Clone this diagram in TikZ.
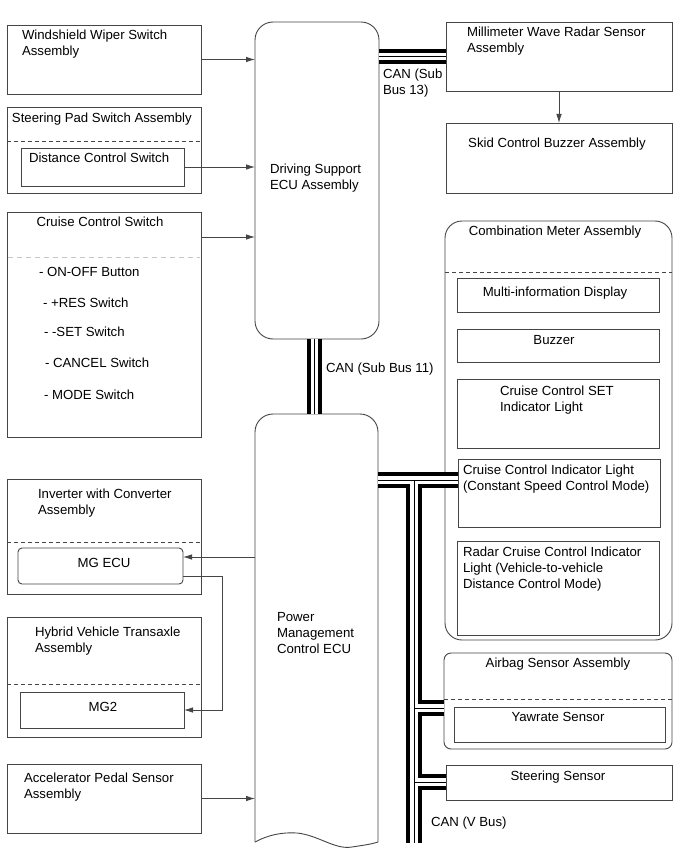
\documentclass[tikz,border=0pt]{standalone}
\usepackage{fontspec}
\setmainfont{Liberation Sans}
\usetikzlibrary{arrows.meta}
\definecolor{edge}{HTML}{454545}
\tikzset{
  bx/.style={draw=edge, line width=0.9pt, inner sep=0pt, outer sep=0pt},
  lbl/.style={inner sep=0pt, outer sep=0pt, align=left, anchor=west, font=\fontsize{13.2}{16}\selectfont},
  clbl/.style={inner sep=0pt, outer sep=0pt, align=center, font=\fontsize{13.2}{16}\selectfont},
  arr/.style={draw=edge, line width=0.8pt, -{Latex[length=9pt,width=5.5pt]}},
  wire/.style={draw=edge, line width=0.8pt},
  dsh/.style={draw=edge, line width=0.8pt, dash pattern=on 4pt off 3pt},
  gdsh/.style={draw=gray!45, line width=1pt, dash pattern=on 5pt off 4pt},
  busblack/.style={draw=black, line width=#1},
  buswhite/.style={draw=white, line width=#1},
  busthin/.style={draw=black, line width=0.8pt},
}
\newcommand\mkbox[6][]{\node[bx,#1,minimum width={#5-#3},minimum height={#6-#4}] (#2) at ({(#3+#5)/2},{(#4+#6)/2}) {};}
\begin{document}
\begin{tikzpicture}[x=1pt,y=-1pt]
\useasboundingbox[fill=white] (0,0) rectangle (690,853);

% ---------- left column ----------
\mkbox{wiper}{7}{25}{201}{94}
\mkbox{steer}{7}{107}{201}{193}
\draw[dsh] (7,141) -- (201,141);
\mkbox{dist}{21}{148}{184}{186}
\mkbox{ccsw}{7}{212}{201}{437}
\draw[gdsh] (8,257) -- (200,257);
\mkbox{inv}{7}{479}{201}{594}
\draw[dsh] (7,542) -- (201,542);
\mkbox[rounded corners=4pt]{mgecu}{18}{548}{183}{584}
\mkbox{hv}{7}{617}{201}{737}
\draw[dsh] (7,684) -- (201,684);
\mkbox{mgtwo}{20}{692}{184}{728}
\mkbox{accel}{7}{764}{201}{833}

% ---------- ECUs ----------
\mkbox[rounded corners=18pt]{dsecu}{255}{22}{379}{339}
\node[inner sep=0pt, outer sep=0pt, minimum width=123, minimum height=428] (pmc) at (316.5,628) {};
\draw[bx, rounded corners=18pt] (255,842) -- (255,414) -- (378,414) -- (378,842);
\draw[bx] (255,842) .. controls (268,835) and (282,832) .. (297,833)
  .. controls (318,835) and (335,850) .. (352,847)
  .. controls (365,845) and (372,844) .. (378,842);

% ---------- right column ----------
\mkbox{mmw}{446}{22}{672}{91}
\mkbox{skid}{446}{123}{672}{193}
\mkbox[rounded corners=17pt]{comb}{445}{221}{672}{640}
\draw[dsh] (445,272) -- (672,272);
\mkbox{mid}{457}{278}{659}{312}
\mkbox{buzz}{457}{329}{659}{362}
\mkbox{ccset}{457}{379}{659}{448}
\mkbox{ccind}{458}{459}{660}{527}
\mkbox{radar}{457}{541}{659}{635}
\mkbox[rounded corners=7pt]{airbag}{444}{653}{672}{749}
\draw[dsh] (444,699) -- (672,699);
\mkbox{yaw}{454}{707}{665}{742}
\mkbox{steersens}{446}{765}{672}{800}

% ---------- texts ----------
\node[lbl] (t1) at (22,44) {Windshield Wiper Switch\\Assembly};
\node[lbl] (t2) at (12,119) {Steering Pad Switch Assembly};
\node[lbl] (t3) at (29,158) {Distance Control Switch};
\node[clbl] (t4) at (100,222) {Cruise Control Switch};
\node[lbl] (t5) at (39,272) {- ON-OFF Button};
\node[lbl] (t6) at (43,303) {- +RES Switch};
\node[lbl] (t7) at (44,332) {- -SET Switch};
\node[lbl] (t8) at (45,363) {- CANCEL Switch};
\node[lbl] (t9) at (44,395) {- MODE Switch};
\node[lbl] (t10) at (38,503) {Inverter with Converter\\Assembly};
\node[clbl] (t11) at (104,563) {MG ECU};
\node[lbl] (t12) at (35,641) {Hybrid Vehicle Transaxle\\Assembly};
\node[clbl] (t13) at (103,707) {MG2};
\node[lbl] (t14) at (24,787) {Accelerator Pedal Sensor\\Assembly};
\node[lbl] (t15) at (270,178.5) {Driving Support\\ECU Assembly};
\node[lbl] (t16) at (277,633) {Power\\Management\\Control ECU};
\node[lbl] (t17) at (467,41) {Millimeter Wave Radar Sensor\\Assembly};
\node[lbl] (t18) at (383,83) {CAN (Sub\\Bus 13)};
\node[clbl] (t19) at (557,144) {Skid Control Buzzer Assembly};
\node[lbl] (t20) at (326,369) {CAN (Sub Bus 11)};
\node[clbl] (t21) at (555,232) {Combination Meter Assembly};
\node[clbl] (t22) at (555,293) {Multi-information Display};
\node[clbl] (t23) at (554,340) {Buzzer};
\node[lbl] (t24) at (500,400.5) {Cruise Control SET\\Indicator Light};
\node[lbl] (t25) at (463,479) {Cruise Control Indicator Light\\(Constant Speed Control Mode)};
\node[lbl] (t26) at (463,569) {Radar Cruise Control Indicator\\Light (Vehicle-to-vehicle\\Distance Control Mode)};
\node[clbl] (t27) at (558,664) {Airbag Sensor Assembly};
\node[clbl] (t28) at (558,717) {Yawrate Sensor};
\node[clbl] (t29) at (558,777) {Steering Sensor};
\node[lbl] (t30) at (431,823) {CAN (V Bus)};

% ---------- connectors ----------
\draw[arr] (wiper.east) -- (dsecu.west |- wiper.east);
\draw[arr] (dist.east) -- (dsecu.west |- dist.east);
\coordinate (ccout) at ([yshift=-25pt]ccsw.north east);
\draw[arr] (ccout) -- (dsecu.west |- ccout);
\coordinate (mgin) at ([yshift=-9pt]mgecu.north east);
\draw[arr] (pmc.west |- mgin) -- (mgin);
\coordinate (mgout) at ([yshift=8pt]mgecu.south east);
\draw[arr] (mgout) -- ++(39,0) |- (mgtwo.east);
\draw[arr] (accel.east) -- (pmc.west |- accel.east);
\draw[arr] (mmw.south) -- (skid.north);

% ---------- CAN buses ----------
% Sub Bus 13
\coordinate (sb13a) at (dsecu.east |- mmw.west);
\def\busA{(sb13a) -- (mmw.west)}
\draw[busblack=15pt] \busA; \draw[buswhite=7pt] \busA; \draw[busthin] \busA;
% Sub Bus 11
\coordinate (sb11a) at ([xshift=-2.5pt]dsecu.south);
\coordinate (sb11b) at ([xshift=-2pt]pmc.north);
\def\busB{(sb11a) -- (sb11b)}
\draw[busblack=15pt] \busB; \draw[buswhite=7pt] \busB; \draw[busthin] \busB;
% V Bus
\coordinate (vr) at ([yshift=13pt]ccind.west);
\coordinate (vl) at (pmc.east |- vr);
\coordinate (vt) at (414,480);
\coordinate (vbot) at (414,843);
\coordinate (vj1) at (414,708);
\coordinate (vj2) at (414,782);
\def\busC{(vl) -- (vr) (vt) -- (vbot) (vj1) -- (vj1 -| airbag.west) (vj2) -- (vj2 -| steersens.west)}
\draw[busblack=16pt] \busC; \draw[buswhite=8pt] \busC; \draw[busthin] \busC;
\end{tikzpicture}
\end{document}
